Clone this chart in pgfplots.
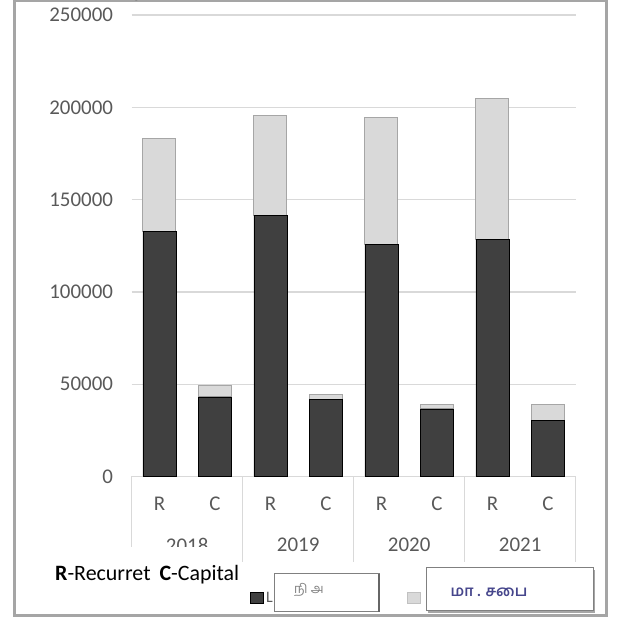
\documentclass[border=0pt]{standalone}
\usepackage{fontspec}
\setmainfont{Carlito}
\newfontfamily\tamilfont[Script=Tamil]{Hind Madurai}
\usepackage{pgfplots}
\pgfplotsset{compat=1.18}
\definecolor{darkbar}{HTML}{404040}
\definecolor{lightbar}{HTML}{D9D9D9}
\definecolor{lightedge}{HTML}{A6A6A6}
\definecolor{gridgray}{HTML}{D9D9D9}
\definecolor{tickgray}{HTML}{595959}
\definecolor{framegray}{HTML}{A5A5A5}
\newcommand\ticksize{\fontsize{21}{25}\selectfont}

\begin{document}
\begin{tikzpicture}[x=1bp,y=1bp]
\useasboundingbox (0,0) rectangle (628,619);
% outer frame
\draw[framegray, line width=3bp] (14.2,618) rectangle (606.5,3.5);

\begin{axis}[
    at={(131.7bp,142.5bp)}, anchor=south west,
    scale only axis, width=444bp, height=461.5bp,
    ybar stacked, bar width=33bp,
    xmin=-0.5, xmax=7.5, ymin=0, ymax=250000,
    enlargelimits=false, clip=false,
    axis lines*=left,
    y axis line style={draw=none},
    x axis line style={gridgray, line width=1.3bp},
    major tick length=0pt,
    xtick={0,...,7},
    xticklabels={R,C,R,C,R,C,R,C},
    ytick={0,50000,100000,150000,200000,250000},
    yticklabels={0,50000,100000,150000,200000,250000},
    ymajorgrids, grid style={gridgray, line width=1.3bp},
    ticklabel style={font=\ticksize, text=tickgray},
    xticklabel style={anchor=center, yshift=-27bp},
    yticklabel style={anchor=east, inner sep=0pt, xshift=-18.5bp},
]
\addplot[fill=darkbar, draw=black, line width=0.8bp] coordinates {
    (0,132750) (1,43100) (2,141400) (3,41500)
    (4,125500) (5,36600) (6,128300) (7,30600)};
\addplot[fill=lightbar, draw=lightedge, line width=1bp] coordinates {
    (0,50250) (1,6400) (2,54100) (3,3100)
    (4,68900) (5,2200) (6,76200) (7,8200)};

% group separators under the axis
\draw[gridgray, line width=1.2bp] (axis cs:-0.5,0) -- ++(0bp,-85.5bp);
\draw[gridgray, line width=1.2bp] (axis cs:1.5,0) -- ++(0bp,-85.5bp);
\draw[gridgray, line width=1.2bp] (axis cs:3.5,0) -- ++(0bp,-85.5bp);
\draw[gridgray, line width=1.2bp] (axis cs:5.5,0) -- ++(0bp,-85.5bp);
\draw[gridgray, line width=1.2bp] (axis cs:7.5,0) -- ++(0bp,-85.5bp);

% year labels
\path (axis cs:0.5,0) ++(0bp,-68.5bp) node[font=\ticksize, text=tickgray] {2018};
\path (axis cs:2.5,0) ++(0bp,-68.5bp) node[font=\ticksize, text=tickgray] {2019};
\path (axis cs:4.5,0) ++(0bp,-68.5bp) node[font=\ticksize, text=tickgray] {2020};
\path (axis cs:6.5,0) ++(0bp,-68.5bp) node[font=\ticksize, text=tickgray] {2021};
\end{axis}

% note over the cut-off first year label
\fill[white] (17,71.7) rectangle (240,30);
\node[anchor=base west, inner sep=0pt, font=\fontsize{22}{26}\selectfont]
    at (55,38.3) {\textbf{R}-Recurret\hspace{9bp}\textbf{C}-Capital};

% legend
\draw[black, fill=darkbar, line width=0.8bp] (250.7,16) rectangle (263,27);
\node[anchor=base west, inner sep=0pt, text=tickgray, font=\fontsize{16}{19}\selectfont]
    at (266,16) {L};
\draw[lightedge!70, fill=lightbar, line width=0.8bp] (407,16) rectangle (420,27);

\draw[gray, line width=1bp, fill=white] (274,7) rectangle (379,45);
\draw[gray!80!black, line width=1.5bp] (379,45) -- (379,7);
\node[text=gray, font=\tamilfont\fontsize{13}{15}\selectfont] at (309,29) {நி அ};

\fill[gray!70] (428,6) rectangle (595,49);
\draw[gray, line width=1bp, fill=white] (426,8) rectangle (593,51);
\node[text={rgb,255:red,70;green,70;blue,140}, font=\tamilfont\bfseries\fontsize{15}{18}\selectfont]
    at (489,27) {மா . சபை};
\end{tikzpicture}
\end{document}
